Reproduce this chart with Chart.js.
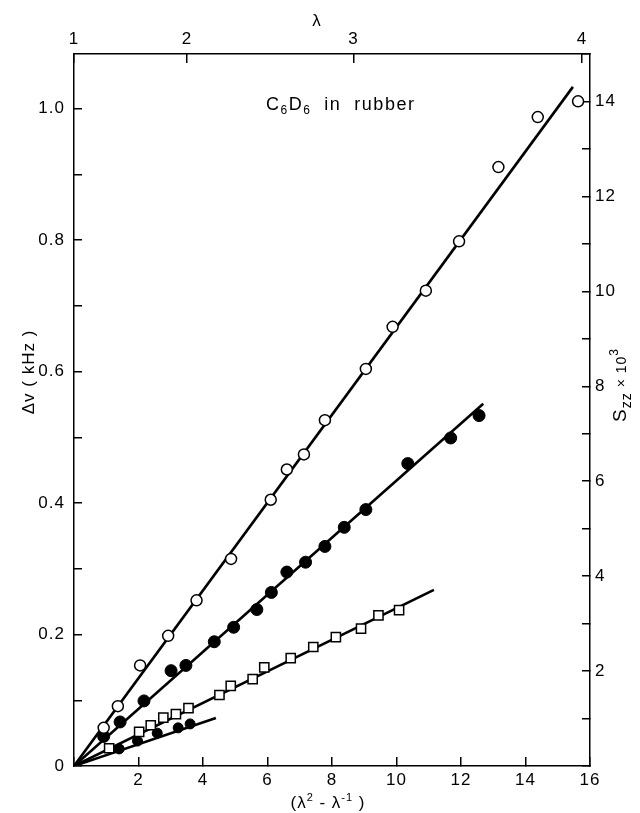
<!DOCTYPE html>
<html>
<head>
<meta charset="utf-8">
<script src="https://cdn.jsdelivr.net/npm/chart.js@4"></script>
<style>
    html, body { margin: 0; padding: 0; background: #fff; }
    #wrap { width: 640px; height: 813px; position: relative; }
</style>
</head>
<body>
<div id="wrap"><canvas id="rubberChart"></canvas></div>
<script>
// open circles
const openX = [0.92, 1.36, 2.05, 2.92, 3.80, 4.87, 6.10, 6.60, 7.13, 7.78, 9.05, 9.88, 10.91, 11.94, 13.16, 14.38, 15.63];
const openY = [0.058, 0.091, 0.153, 0.198, 0.252, 0.315, 0.405, 0.451, 0.474, 0.526, 0.604, 0.668, 0.723, 0.798, 0.911, 0.987, 1.011];
// filled circles
const filledX = [0.92, 1.43, 2.17, 3.01, 3.47, 4.35, 4.95, 5.67, 6.12, 6.60, 7.18, 7.78, 8.38, 9.05, 10.35, 11.68, 12.56];
const filledY = [0.045, 0.067, 0.099, 0.145, 0.153, 0.189, 0.211, 0.238, 0.264, 0.295, 0.310, 0.334, 0.363, 0.390, 0.460, 0.499, 0.533];
// open squares
const squareX = [1.09, 2.02, 2.38, 2.77, 3.16, 3.55, 4.51, 4.86, 5.54, 5.90, 6.72, 7.42, 8.12, 8.90, 9.44, 10.08];
const squareY = [0.027, 0.052, 0.062, 0.0735, 0.079, 0.088, 0.108, 0.122, 0.132, 0.150, 0.164, 0.181, 0.196, 0.209, 0.229, 0.237];
// small filled markers, lowest line
const lowerX = [1.40, 1.97, 2.58, 3.23, 3.60];
const lowerY = [0.026, 0.038, 0.050, 0.058, 0.064];

// fitted straight lines (start and end)
const fitOpenX = [0, 15.47], fitOpenY = [0, 1.033];
const fitFilledX = [0, 12.69], fitFilledY = [0, 0.551];
const fitSquareX = [0, 11.16], fitSquareY = [0, 0.268];
const fitLowerX = [0, 4.40], fitLowerY = [0, 0.073];

// top axis: lambda
const lambdaTicks = [1, 2, 3, 4];

Chart.defaults.font.family = "'Liberation Sans', Arial, sans-serif";
Chart.defaults.color = '#000';

function toPoints(xs, ys) {
    return xs.map(function (x, i) { return { x: x, y: ys[i] }; });
}

function fitLine(xs, ys) {
    return {
        data: toPoints(xs, ys),
        showLine: true,
        borderColor: '#000',
        borderWidth: 2.6,
        pointRadius: 0,
        order: 2
    };
}

// rich text: parts of {t, size, dy}
function drawParts(ctx, parts, x, y) {
    var total = 0;
    parts.forEach(function (p) {
        ctx.font = p.size + "px 'Liberation Sans', Arial, sans-serif";
        total += ctx.measureText(p.t).width;
    });
    var cx = x - total / 2;
    parts.forEach(function (p) {
        ctx.font = p.size + "px 'Liberation Sans', Arial, sans-serif";
        ctx.fillText(p.t, cx, y + (p.dy || 0));
        cx += ctx.measureText(p.t).width;
    });
}

const labelsPlugin = {
    id: 'labels',
    beforeDraw: function (chart) {
        const ctx = chart.ctx;
        ctx.save();
        ctx.fillStyle = '#fff';
        ctx.fillRect(0, 0, chart.width, chart.height);
        ctx.restore();
        ctx.letterSpacing = '1px';
    },
    afterDraw: function (chart) {
        const ctx = chart.ctx;
        ctx.save();
        ctx.fillStyle = '#000';
        ctx.textBaseline = 'alphabetic';
        ctx.textAlign = 'left';
        ctx.letterSpacing = '1px';

        // top axis title
        drawParts(ctx, [{ t: 'λ', size: 17 }], 317, 26);

        // bottom axis title
        drawParts(ctx, [
            { t: '(λ', size: 17 },
            { t: '2', size: 11, dy: -7 },
            { t: ' - λ', size: 17 },
            { t: '-1', size: 11, dy: -7 },
            { t: ' )', size: 17 }
        ], 328, 808);

        // left axis title
        ctx.save();
        ctx.translate(34, 372);
        ctx.rotate(-Math.PI / 2);
        drawParts(ctx, [{ t: 'Δv ( kHz )', size: 17 }], 0, 0);
        ctx.restore();

        // right axis title
        ctx.save();
        ctx.translate(626, 385);
        ctx.rotate(-Math.PI / 2);
        drawParts(ctx, [
            { t: 'S', size: 19 },
            { t: 'zz', size: 14, dy: 5 },
            { t: ' × 10', size: 14 },
            { t: '3', size: 12, dy: -8 }
        ], 0, 0);
        ctx.restore();

        // annotation
        ctx.letterSpacing = '1.5px';
        var parts = [
            { t: 'C', size: 18 },
            { t: '6', size: 12, dy: 4 },
            { t: 'D', size: 18 },
            { t: '6', size: 12, dy: 4 },
            { t: '  in  rubber', size: 18 }
        ];
        var w = 0;
        parts.forEach(function (p) {
            ctx.font = p.size + "px 'Liberation Sans', Arial, sans-serif";
            w += ctx.measureText(p.t).width;
        });
        drawParts(ctx, parts, 266 + w / 2, 110);
        ctx.restore();
    }
};

const axisGrid = function (len) {
    return { drawOnChartArea: false, tickLength: len, color: '#000', lineWidth: 1.5 };
};
const axisBorder = { display: true, color: '#000', width: 1.5 };

new Chart(document.getElementById('rubberChart'), {
    type: 'scatter',
    data: {
        datasets: [
            {
                data: toPoints(openX, openY),
                pointStyle: 'circle',
                pointRadius: 5.5,
                backgroundColor: '#fff',
                borderColor: '#000',
                borderWidth: 1.5,
                order: 0
            },
            {
                data: toPoints(filledX, filledY),
                pointStyle: 'circle',
                pointRadius: 6,
                backgroundColor: '#000',
                borderColor: '#000',
                borderWidth: 1,
                order: 0
            },
            {
                data: toPoints(squareX, squareY),
                pointStyle: 'rect',
                pointRadius: 6.5,
                backgroundColor: '#fff',
                borderColor: '#000',
                borderWidth: 1.5,
                order: 0
            },
            {
                data: toPoints(lowerX, lowerY),
                pointStyle: 'circle',
                pointRadius: 5,
                backgroundColor: '#000',
                borderColor: '#000',
                borderWidth: 1,
                order: 0
            },
            fitLine(fitOpenX, fitOpenY),
            fitLine(fitFilledX, fitFilledY),
            fitLine(fitSquareX, fitSquareY),
            fitLine(fitLowerX, fitLowerY)
        ]
    },
    options: {
        responsive: true,
        maintainAspectRatio: false,
        animation: false,
        layout: { padding: 0 },
        plugins: { legend: { display: false }, tooltip: { enabled: false } },
        scales: {
            x: {
                type: 'linear',
                position: 'bottom',
                min: 0,
                max: 16,
                grid: axisGrid(-9),
                border: axisBorder,
                ticks: {
                    stepSize: 2,
                    autoSkip: false,
                    maxRotation: 0,
                    padding: 13,
                    font: { size: 17 },
                    callback: function (v) { return v === 0 ? '' : String(v); }
                },
                afterFit: function (s) { s.height = 47; }
            },
            x2: {
                type: 'linear',
                position: 'top',
                min: 0,
                max: 16,
                grid: axisGrid(-9),
                border: axisBorder,
                afterBuildTicks: function (s) {
                    s.ticks = lambdaTicks.map(function (l) { return { value: l * l - 1 / l }; });
                },
                ticks: {
                    autoSkip: false,
                    maxRotation: 0,
                    padding: 13,
                    font: { size: 17 },
                    callback: function (v, i) { return String(lambdaTicks[i]); }
                },
                afterFit: function (s) { s.height = 54; }
            },
            y: {
                type: 'linear',
                position: 'left',
                min: 0,
                max: 1.083,
                grid: axisGrid(-8),
                border: axisBorder,
                afterBuildTicks: function (s) {
                    s.ticks = s.ticks.filter(function (t) { return t.value <= 1.0001; });
                },
                ticks: {
                    stepSize: 0.1,
                    autoSkip: false,
                    padding: 17,
                    font: { size: 17 },
                    callback: function (v) {
                        var r = Math.round(v * 10);
                        if (r % 2) return '';
                        return r === 0 ? '0' : (r / 10).toFixed(1);
                    }
                },
                afterFit: function (s) { s.width = 74; }
            },
            y2: {
                type: 'linear',
                position: 'right',
                min: 0,
                max: 15,
                grid: axisGrid(-8),
                border: axisBorder,
                ticks: {
                    stepSize: 1,
                    autoSkip: false,
                    padding: 13,
                    font: { size: 17 },
                    callback: function (v) { return (v > 0 && v % 2 === 0) ? String(v) : ''; }
                },
                afterFit: function (s) { s.width = 50; }
            }
        }
    },
    plugins: [labelsPlugin]
});
</script>
</body>
</html>
